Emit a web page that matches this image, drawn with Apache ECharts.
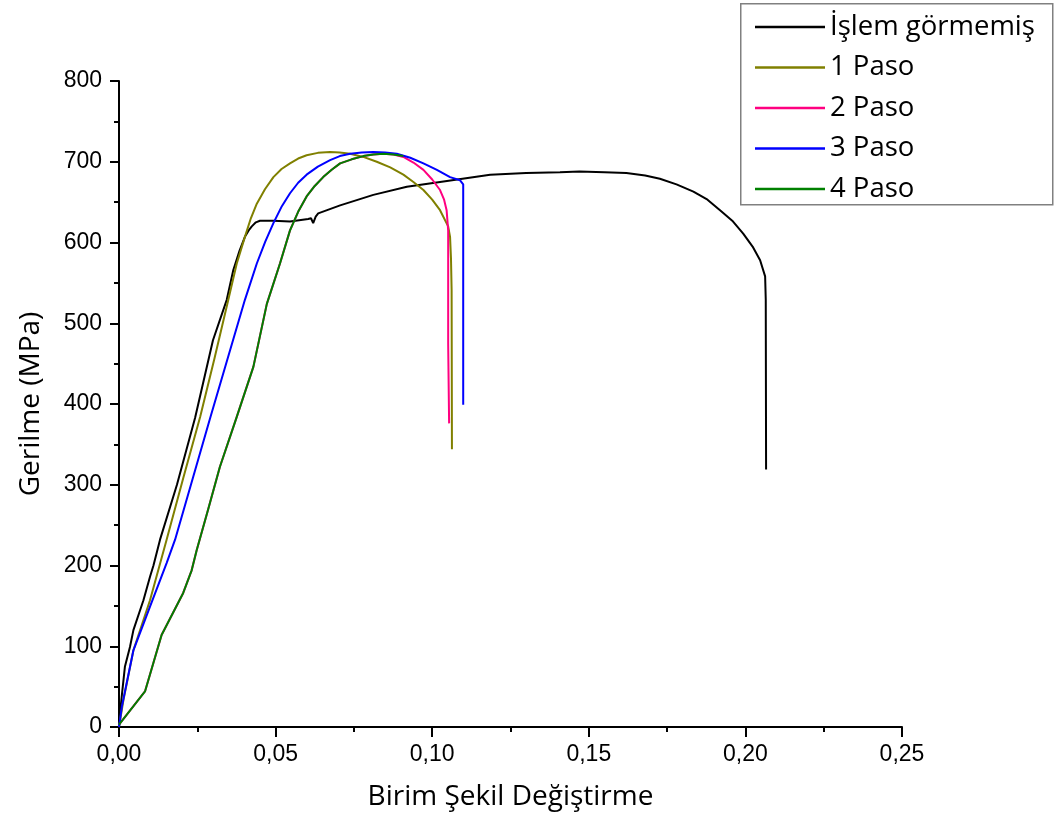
<!DOCTYPE html>
<html>
<head>
<meta charset="utf-8">
<script src="https://cdn.jsdelivr.net/npm/echarts@6/dist/echarts.min.js"></script>
<style>html,body{margin:0;padding:0;background:#fff;}#c{width:1060px;height:821px;}</style>
</head>
<body>
<div id="c"></div>
<script>
const seriesNames = ['İşlem görmemiş', '1 Paso', '2 Paso', '3 Paso', '4 Paso'];
const xTicks = [0, 0.05, 0.10, 0.15, 0.20, 0.25];
const yTicks = [0, 100, 200, 300, 400, 500, 600, 700, 800];

const strain0 = [0,0.0004,0.00085,0.0019,0.0035,0.0046,0.0078,0.0099,0.011,0.0131,0.0185,0.0243,0.030,0.0344,0.0365,0.0385,0.0402,0.0414,0.0424,0.0437,0.045,0.0493,0.0546,0.0604,0.0613,0.062,0.0628,0.0636,0.0706,0.0812,0.0919,0.1025,0.1185,0.13,0.1408,0.147,0.155,0.162,0.168,0.1727,0.178,0.1834,0.1879,0.1919,0.1958,0.1993,0.2023,0.2047,0.2063,0.2065,0.2066,0.2066];
const stress0 = [0,20,37,75,99,120,157,186,200,232,300,383,479,529,566,590,607,615,620,625,627,627,626,629,630,624,632,636,646,659,669,675,684,686,687,688,687,686,683,679,672,663,653,640,627,611,595,578,558,529,322,319];

const strain1 = [0,0.0014,0.0046,0.0099,0.0152,0.0205,0.0259,0.0304,0.0349,0.0376,0.0402,0.0421,0.044,0.0466,0.0493,0.0519,0.0546,0.0572,0.0599,0.0635,0.0674,0.0705,0.0738,0.078,0.0823,0.0866,0.0908,0.094,0.0972,0.1,0.1025,0.1051,0.1057,0.106,0.1062,0.1063];
const stress1 = [0,33,95,157,232,308,384,455,529,574,607,630,648,666,681,691,698,704,708,711,712,711.5,710,706,700,693,684,675,665,653,640,620,607,580,541,344];

const strain2 = [0,0.0083,0.0136,0.0205,0.0232,0.0248,0.0285,0.0322,0.0376,0.0429,0.0472,0.0514,0.0546,0.0572,0.0599,0.0625,0.0652,0.0679,0.0706,0.0743,0.078,0.0812,0.0844,0.0876,0.0908,0.094,0.0972,0.1,0.1025,0.1038,0.1046,0.1051,0.1051,0.1054];
const stress2 = [3,44,114,166,194,219,270,322,384,446,524,574,615,638,657,670,681,690,698,703,707,709,710,709,706,699,690,678,665,653,640,615,475,376];

const strain3 = [0,0.0009,0.0046,0.0099,0.0152,0.0179,0.0292,0.0402,0.044,0.0467,0.0493,0.052,0.0546,0.0572,0.0599,0.0635,0.0674,0.0705,0.0738,0.0775,0.0812,0.085,0.0887,0.093,0.0972,0.1015,0.1057,0.1089,0.1099,0.1099,0.1099];
const stress3 = [0,25,95,149,203,232,384,529,574,601,624,645,661,674,684,694,702,707,710,711.5,712,711.5,710,705,698,690,681,677,672,525,399];

const strain4 = [0,0.0083,0.0136,0.0205,0.0232,0.0248,0.0285,0.0322,0.0376,0.0429,0.0472,0.0514,0.0546,0.0572,0.0599,0.0625,0.0652,0.0679,0.0706,0.0743,0.078,0.0812,0.0844,0.0876,0.0908];
const stress4 = [3,44,114,166,194,219,270,322,384,446,524,574,615,638,657,670,681,690,698,703,707,709,710,709,707];

const colors = ['#000000', '#808000', '#ff0080', '#0000ff', '#008000'];
const strains = [strain0, strain1, strain2, strain3, strain4];
const stresses = [stress0, stress1, stress2, stress3, stress4];

const chart = echarts.init(document.getElementById('c'));
const axisLbl = {color: '#000', fontSize: 23, fontFamily: 'Liberation Sans, Arial, sans-serif'};
const option = {
  animation: false,
  backgroundColor: '#fff',
  grid: {left: 119, right: 158, top: 81, bottom: 94},
  xAxis: {
    type: 'value', min: 0, max: 0.25, interval: 0.05,
    name: 'Birim Şekil Değiştirme', nameLocation: 'middle', nameGap: 56,
    nameTextStyle: {color: '#000', fontSize: 28, fontFamily: 'Open Sans, sans-serif'},
    axisLine: {show: true, onZero: false, lineStyle: {color: '#000', width: 2}},
    axisTick: {show: true, inside: false, length: 10, lineStyle: {color: '#000', width: 2}},
    minorTick: {show: true, splitNumber: 2, length: 5, lineStyle: {color: '#000', width: 2}},
    splitLine: {show: false},
    axisLabel: Object.assign({margin: 16, formatter: v => v.toFixed(2).replace('.', ',')}, axisLbl)
  },
  yAxis: {
    type: 'value', min: 0, max: 800, interval: 100,
    name: 'Gerilme (MPa)', nameLocation: 'middle', nameGap: 74, nameRotate: 90,
    nameTextStyle: {color: '#000', fontSize: 28, fontFamily: 'Open Sans, sans-serif'},
    axisLine: {show: true, onZero: false, lineStyle: {color: '#000', width: 2}},
    axisTick: {show: true, inside: false, length: 9, lineStyle: {color: '#000', width: 2}},
    minorTick: {show: true, splitNumber: 2, length: 5, lineStyle: {color: '#000', width: 2}},
    splitLine: {show: false},
    axisLabel: Object.assign({margin: 17}, axisLbl)
  },
  legend: {
    orient: 'vertical', left: 750, top: 8, itemGap: 12.5,
    itemWidth: 70, itemHeight: 2.5, icon: 'rect',
    data: seriesNames,
    textStyle: {color: '#000', fontSize: 27.5, lineHeight: 26, fontFamily: 'Open Sans, sans-serif'}
  },
  graphic: [{
    type: 'rect', left: 740, top: 3, z: 0,
    shape: {width: 312, height: 201},
    style: {fill: '#fff', stroke: '#808080', lineWidth: 1.5}
  }],
  series: seriesNames.map((n, i) => ({
    name: n, type: 'line', showSymbol: false, symbol: 'none',
    color: colors[i],
    lineStyle: {color: colors[i], width: 2},
    data: strains[i].map((x, j) => [x, stresses[i][j]]),
    z: 2 + i
  }))
};
chart.setOption(option);
</script>
</body>
</html>
